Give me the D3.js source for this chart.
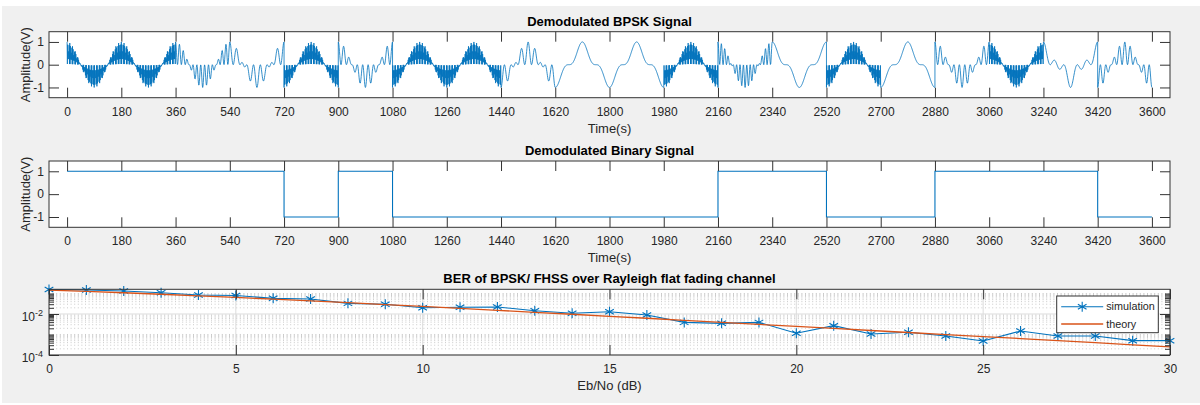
<!DOCTYPE html>
<html>
<head>
<meta charset="utf-8">
<script src="https://cdn.jsdelivr.net/npm/d3@7"></script>
<style>
  body { margin: 0; background: #fff; }
  svg { display: block; font-family: "Liberation Sans", Arial, Helvetica, sans-serif; }
</style>
</head>
<body>
<svg id="chart" width="1200" height="405"></svg>
<script>
// ---- data ----
// one value per bit (each bit lasts 180 s)
const bitValues = [1, 1, 1, 1, -1, 1, -1, -1, -1, -1, -1, -1, 1, 1, -1, -1, 1, 1, 1, -1];
// hop carrier cycles per bit used in each slot
const hopCycles = [40, 40, 7, 4, 40, 5, 40, 40, 4, 1, 1, 40, 8, 1, 40, 1, 5, 40, 2, 5];
const bitDuration = 180;
const timeTicks = [0, 180, 360, 540, 720, 900, 1080, 1260, 1440, 1620, 1800, 1980, 2160, 2340, 2520, 2700, 2880, 3060, 3240, 3420, 3600];
const ampTicks = [-1, 0, 1];

const ebNo = [0, 1, 2, 3, 4, 5, 6, 7, 8, 9, 10, 11, 12, 13, 14, 15, 16, 17, 18, 19, 20, 21, 22, 23, 24, 25, 26, 27, 28, 29, 30];
const berSim = [0.155, 0.148, 0.132, 0.109, 0.0845, 0.08, 0.058, 0.054, 0.033, 0.0297,
  0.0203, 0.0212, 0.0219, 0.0145, 0.0108, 0.0129, 0.0089, 0.0039, 0.0035, 0.0039,
  0.00115, 0.0027, 0.00106, 0.00128, 0.00085, 0.00048, 0.00148, 0.00085, 0.00085, 0.0005, 0.0005];
const berTheory = [0.1464, 0.1267, 0.1085, 0.0919, 0.0771, 0.0642, 0.0530, 0.0435, 0.0355, 0.0288,
  0.0233, 0.0188, 0.0151, 0.0121, 0.0097, 0.0077, 0.0062, 0.0049, 0.0039, 0.0031,
  0.00248, 0.00197, 0.00157, 0.00125, 0.00099, 0.00079, 0.00063, 0.00050, 0.00040, 0.00031, 0.00025];
const ebNoTicks = [0, 5, 10, 15, 20, 25, 30];
const berMajorTicks = [1e-4, 1e-2];
const legendLabels = ['simulation', 'theory'];

// ---- config ----
const colors = { blue: '#0072BD', orange: '#D95319', axis: '#333333', text: '#262626', bg: '#f0f0f0' };
const box = { left: 49, right: 1170 };
const panels = [
  { top: 31.7, bottom: 97.7, title: 'Demodulated BPSK Signal' },
  { top: 161, bottom: 227.3, title: 'Demodulated Binary Signal' },
  { top: 289.3, bottom: 355, title: 'BER of BPSK/ FHSS over Rayleigh flat fading channel' }
];
const tickLen = 10;

const svg = d3.select('#chart');
svg.append('rect').attr('width', 1200).attr('height', 405).attr('fill', '#fff');
svg.append('rect').attr('x', 2).attr('y', 6).attr('width', 1198).attr('height', 397).attr('fill', colors.bg);

// demodulated signal: bit * carrier * hop^2 (despread), sampled once per second
const wave = [];
bitValues.forEach((b, i) => {
  for (let n = 0; n <= bitDuration; n++) {
    const carrier = Math.cos(2 * Math.PI * n / bitDuration);
    const hop = Math.cos(2 * Math.PI * hopCycles[i] * n / bitDuration);
    wave.push([i * bitDuration + n, b * carrier * hop * hop]);
  }
});
const binary = [];
bitValues.forEach((b, i) => {
  binary.push([i * bitDuration, b], [(i + 1) * bitDuration, b]);
});

function styleAxis(g) {
  g.select('.domain').remove();
  g.selectAll('line').attr('stroke', colors.axis).attr('stroke-width', 1);
  g.selectAll('text').attr('fill', colors.text).style('font-size', '12px').style('font-family', null);
}

function addFrame(p, i) {
  const g = svg.append('g');
  g.append('rect')
    .attr('x', box.left).attr('y', p.top)
    .attr('width', box.right - box.left).attr('height', p.bottom - p.top)
    .attr('fill', '#fff');
  svg.append('clipPath').attr('id', 'clip' + i)
    .append('rect')
    .attr('x', box.left).attr('y', p.top)
    .attr('width', box.right - box.left).attr('height', p.bottom - p.top);
  return g;
}

function addBorder(p) {
  svg.append('rect')
    .attr('x', box.left).attr('y', p.top)
    .attr('width', box.right - box.left).attr('height', p.bottom - p.top)
    .attr('fill', 'none').attr('stroke', colors.axis).attr('stroke-width', 1);
}

function addTitle(p) {
  svg.append('text')
    .attr('x', (box.left + box.right) / 2).attr('y', p.top - 10.5)
    .attr('dy', '0.35em')
    .attr('text-anchor', 'middle')
    .style('font-size', '13px').style('font-weight', 'bold')
    .attr('fill', '#000')
    .text(p.title);
}

function addXLabel(p, label) {
  svg.append('text')
    .attr('x', (box.left + box.right) / 2).attr('y', p.bottom + 30.5)
    .attr('dy', '0.35em')
    .attr('text-anchor', 'middle')
    .style('font-size', '13px')
    .attr('fill', colors.text)
    .text(label);
}

// ---- time panels ----
const xTime = d3.scaleLinear().domain([-60, 3660]).range([box.left, box.right]);

[0, 1].forEach((i) => {
  const p = panels[i];
  const y = d3.scaleLinear().domain([-1.45, 1.45]).range([p.bottom, p.top]);
  const g = addFrame(p, i);
  const series = i === 0 ? wave : binary;

  g.append('path')
    .datum(series)
    .attr('clip-path', `url(#clip${i})`)
    .attr('fill', 'none')
    .attr('stroke', colors.blue)
    .attr('stroke-width', i === 0 ? 0.8 : 1.1)
    .attr('d', d3.line().x((d) => xTime(d[0])).y((d) => y(d[1])));

  svg.append('g').attr('transform', `translate(0,${p.bottom})`)
    .call(d3.axisBottom(xTime).tickValues(timeTicks).tickSizeInner(-tickLen).tickSizeOuter(0).tickFormat((d) => String(d)))
    .call(styleAxis)
    .call((a) => a.selectAll('text').attr('y', 14).attr('dy', '0.35em'));
  svg.append('g').attr('transform', `translate(0,${p.top})`)
    .call(d3.axisTop(xTime).tickValues(timeTicks).tickSizeInner(-tickLen).tickSizeOuter(0).tickFormat(''))
    .call(styleAxis);
  svg.append('g').attr('transform', `translate(${box.left},0)`)
    .call(d3.axisLeft(y).tickValues(ampTicks).tickSizeInner(-tickLen).tickSizeOuter(0).tickPadding(5).tickFormat((d) => String(d)))
    .call(styleAxis);
  svg.append('g').attr('transform', `translate(${box.right},0)`)
    .call(d3.axisRight(y).tickValues(ampTicks).tickSizeInner(-tickLen).tickSizeOuter(0).tickFormat(''))
    .call(styleAxis);

  addBorder(p);
  addTitle(p);
  addXLabel(p, 'Time(s)');

  svg.append('text')
    .attr('transform', `translate(25,${(p.top + p.bottom) / 2}) rotate(-90)`)
    .attr('dy', '0.35em')
    .attr('text-anchor', 'middle')
    .style('font-size', '13px')
    .attr('fill', colors.text)
    .text('Amplitude(V)');
});

// ---- BER panel ----
const p3 = panels[2];
const xEb = d3.scaleLinear().domain([0, 30]).range([box.left, box.right]);
const yBer = d3.scaleLog().domain([1e-4, 0.16]).range([p3.bottom, p3.top]);
const berMinor = [];
[-4, -3, -2, -1].forEach((k) => {
  for (let m = 1; m <= 9; m++) {
    const v = m * Math.pow(10, k);
    if (v <= 0.16 && !berMajorTicks.some((t) => Math.abs(t - v) < 1e-12)) berMinor.push(v);
  }
});

const g3 = addFrame(p3, 2);
// minor grid (dotted)
g3.selectAll('line.minor')
  .data(berMinor)
  .join('line')
  .attr('class', 'minor')
  .attr('x1', box.left).attr('x2', box.right)
  .attr('y1', (d) => yBer(d)).attr('y2', (d) => yBer(d))
  .attr('stroke', '#bdbdbd').attr('stroke-width', 0.8)
  .attr('stroke-dasharray', '1,2.6');
// major grid
g3.selectAll('line.gx')
  .data(ebNoTicks.slice(1, -1))
  .join('line')
  .attr('class', 'gx')
  .attr('x1', (d) => xEb(d)).attr('x2', (d) => xEb(d))
  .attr('y1', p3.top).attr('y2', p3.bottom)
  .attr('stroke', '#dcdcdc');
g3.selectAll('line.gy')
  .data(berMajorTicks)
  .join('line')
  .attr('class', 'gy')
  .attr('x1', box.left).attr('x2', box.right)
  .attr('y1', (d) => yBer(d)).attr('y2', (d) => yBer(d))
  .attr('stroke', '#dcdcdc');

const berLine = (vals) => d3.line().x((d, i) => xEb(ebNo[i])).y((d) => yBer(d))(vals);
const starPath = (r) => {
  const u = r * Math.cos(Math.PI / 6), t = r / 2;
  return `M0,${-r}L0,${r}M${-u},${-t}L${u},${t}M${-u},${t}L${u},${-t}`;
};

const plot3 = svg.append('g');
plot3.append('path')
  .attr('d', berLine(berSim))
  .attr('fill', 'none').attr('stroke', colors.blue).attr('stroke-width', 1.1);
plot3.selectAll('path.star')
  .data(berSim)
  .join('path')
  .attr('class', 'star')
  .attr('transform', (d, i) => `translate(${xEb(ebNo[i])},${yBer(d)})`)
  .attr('d', starPath(5))
  .attr('stroke', colors.blue).attr('stroke-width', 1.1).attr('fill', 'none');
plot3.append('path')
  .attr('d', berLine(berTheory))
  .attr('clip-path', 'url(#clip2)')
  .attr('fill', 'none').attr('stroke', colors.orange).attr('stroke-width', 1.3);

svg.append('g').attr('transform', `translate(0,${p3.bottom})`)
  .call(d3.axisBottom(xEb).tickValues(ebNoTicks).tickSizeInner(-tickLen).tickSizeOuter(0).tickFormat((d) => String(d)))
  .call(styleAxis)
  .call((a) => a.selectAll('text').attr('y', 14).attr('dy', '0.35em'));
svg.append('g').attr('transform', `translate(0,${p3.top})`)
  .call(d3.axisTop(xEb).tickValues(ebNoTicks).tickSizeInner(-tickLen).tickSizeOuter(0).tickFormat(''))
  .call(styleAxis);
[box.left, box.right].forEach((xPos, side) => {
  const ax = side === 0 ? d3.axisLeft : d3.axisRight;
  svg.append('g').attr('transform', `translate(${xPos},0)`)
    .call(ax(yBer).tickValues(berMajorTicks).tickSizeInner(-tickLen).tickSizeOuter(0).tickFormat(''))
    .call(styleAxis);
  svg.append('g').attr('transform', `translate(${xPos},0)`)
    .call(ax(yBer).tickValues(berMinor).tickSizeInner(-5).tickSizeOuter(0).tickFormat(''))
    .call(styleAxis);
});
// log tick labels 10^k
berMajorTicks.forEach((v) => {
  const t = svg.append('text')
    .attr('x', 43).attr('y', yBer(v) + 2.5)
    .attr('dy', '0.35em')
    .attr('text-anchor', 'end')
    .attr('fill', colors.text)
    .style('font-size', '12px');
  t.append('tspan').text('10');
  t.append('tspan').attr('dy', '-0.55em').style('font-size', '9px').text(String(Math.round(Math.log10(v))));
});

addBorder(p3);
addTitle(p3);
addXLabel(p3, 'Eb/No (dB)');

// legend
const legend = svg.append('g').attr('transform', 'translate(1056.7,296)');
legend.append('rect')
  .attr('width', 101.6).attr('height', 36.7)
  .attr('fill', '#fff').attr('stroke', colors.axis).attr('stroke-width', 1);
const items = legend.selectAll('g.item')
  .data(legendLabels)
  .join('g')
  .attr('class', 'item')
  .attr('transform', (d, i) => `translate(0,${10.7 + i * 17.3})`);
items.append('line')
  .attr('x1', 4.5).attr('x2', 46.5)
  .attr('stroke', (d, i) => (i === 0 ? colors.blue : colors.orange))
  .attr('stroke-width', (d, i) => (i === 0 ? 1.1 : 1.3));
items.filter((d, i) => i === 0)
  .append('path')
  .attr('transform', 'translate(25.5,0)')
  .attr('d', starPath(5))
  .attr('stroke', colors.blue).attr('stroke-width', 1.1).attr('fill', 'none');
items.append('text')
  .attr('x', 49.5).attr('dy', '0.35em')
  .attr('fill', colors.text)
  .style('font-size', '10.8px')
  .text((d) => d);
</script>
</body>
</html>
